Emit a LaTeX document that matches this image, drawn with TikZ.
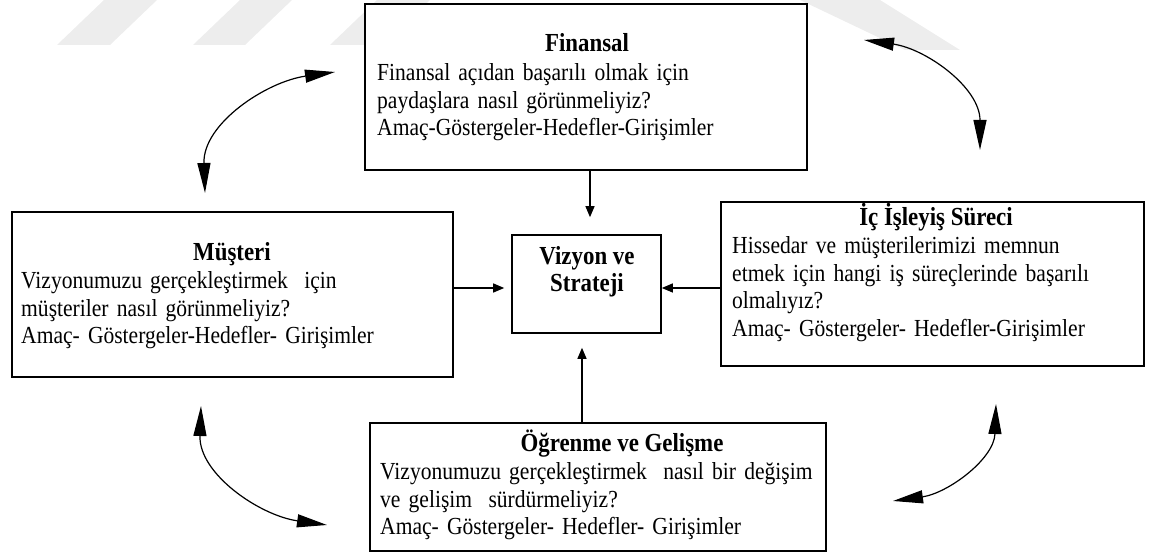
\documentclass[tikz,border=0pt]{standalone}
\usepackage{fontspec}
\setmainfont[FakeStretch=0.88]{Liberation Serif}
\usetikzlibrary{arrows.meta}
\begin{document}
\begin{tikzpicture}[x=1pt,y=1pt,
  box/.style={draw=black, line width=1.6pt, fill=white, rectangle, inner sep=0pt},
  title/.style={font=\fontsize{26}{27.5}\selectfont\bfseries, inner sep=0pt, anchor=base},
  body/.style={font=\fontsize{24.5}{27.5}\selectfont, inner sep=0pt, anchor=base west,
               text width=540pt, align=left},
  link/.style={line width=1.2pt, -{Triangle[length=11pt,width=9pt]}},
  swing/.style={line width=1.2pt,
               {Triangle[length=30pt,width=13pt]}-{Triangle[length=30pt,width=13pt]}},
  wm/.style={fill=black!7, draw=none}]
\useasboundingbox (0,0) rectangle (1154,553);

% faint background stripes
\fill[wm] (57,508) -- (110,508) -- (157,553) -- (104,553) -- cycle;
\fill[wm] (193,508) -- (245,508) -- (292,553) -- (240,553) -- cycle;
\fill[wm] (330,508) -- (383,508) -- (430,553) -- (377,553) -- cycle;
\fill[wm] (800,553) -- (880,553) -- (960,503) -- (905,503) -- cycle;

% perspective boxes
\node[box, minimum width=442pt, minimum height=166pt] (fin) at (586,466) {};
\node[box, minimum width=441pt, minimum height=165pt] (mus) at (232.5,258.5) {};
\node[box, minimum width=149pt, minimum height=98pt]  (viz) at (586.5,269) {};
\node[box, minimum width=423pt, minimum height=164pt] (ic)  at (932.5,269) {};
\node[box, minimum width=456pt, minimum height=128pt] (og)  at (598,66) {};

% Finansal
\node[title] (finT) at (587,501) {Finansal};
\node[body] (finB) at (377,472) {Finansal açıdan başarılı olmak için\\
paydaşlara nasıl görünmeliyiz?\\
Amaç-Göstergeler-Hedefler-Girişimler};

% Müşteri
\node[title] (musT) at (232,292) {Müşteri};
\node[body] (musB) at (21,264) {Vizyonumuzu gerçekleştirmek\ \ için\\
müşteriler nasıl görünmeliyiz?\\
Amaç- Göstergeler-Hedefler- Girişimler};

% Vizyon ve Strateji
\node[title] (vizT1) at (587,288) {Vizyon ve};
\node[title] (vizT2) at (587,261) {Strateji};

% İç İşleyiş Süreci
\node[title] (icT) at (936,327) {İç İşleyiş Süreci};
\node[body] (icB) at (732,299) {Hissedar ve müşterilerimizi memnun\\
etmek için hangi iş süreçlerinde başarılı\\
olmalıyız?\\
Amaç- Göstergeler- Hedefler-Girişimler};

% Öğrenme ve Gelişme
\node[title] (ogT) at (622,101) {Öğrenme ve Gelişme};
\node[body] (ogB) at (380,73) {Vizyonumuzu gerçekleştirmek\ \ nasıl bir değişim\\
ve gelişim\ \ sürdürmeliyiz?\\
Amaç- Göstergeler- Hedefler- Girişimler};

% links into the centre
\draw[link, shorten >=17pt] ([xshift=4pt]fin.south) -- ([xshift=3.5pt]viz.north);
\draw[link, shorten >=7pt] ([yshift=6.5pt]mus.east) -- ([yshift=6.5pt]mus.east -| viz.west);
\draw[link] ([yshift=-4pt]ic.west) -- ([yshift=-4pt]viz.east);
\draw[link, shorten >=14pt] ([xshift=-16pt]og.north) -- ([xshift=-4.5pt]viz.south);

% curved double arrows between neighbouring perspectives
\coordinate (tlA) at (205,360);
\coordinate (tlB) at (335,481);
\coordinate (trA) at (864,513);
\coordinate (trB) at (980,403);
\coordinate (blA) at (201,147);
\coordinate (blB) at (327,28);
\coordinate (brA) at (996,149);
\coordinate (brB) at (893,52);
\draw[swing] (tlA) to[out=92, in=188] (tlB);
\draw[swing] (trA) to[out=-8, in=90] (trB);
\draw[swing] (blA) to[out=-92, in=172] (blB);
\draw[swing] (brA) to[out=-92, in=8] (brB);
\end{tikzpicture}
\end{document}
